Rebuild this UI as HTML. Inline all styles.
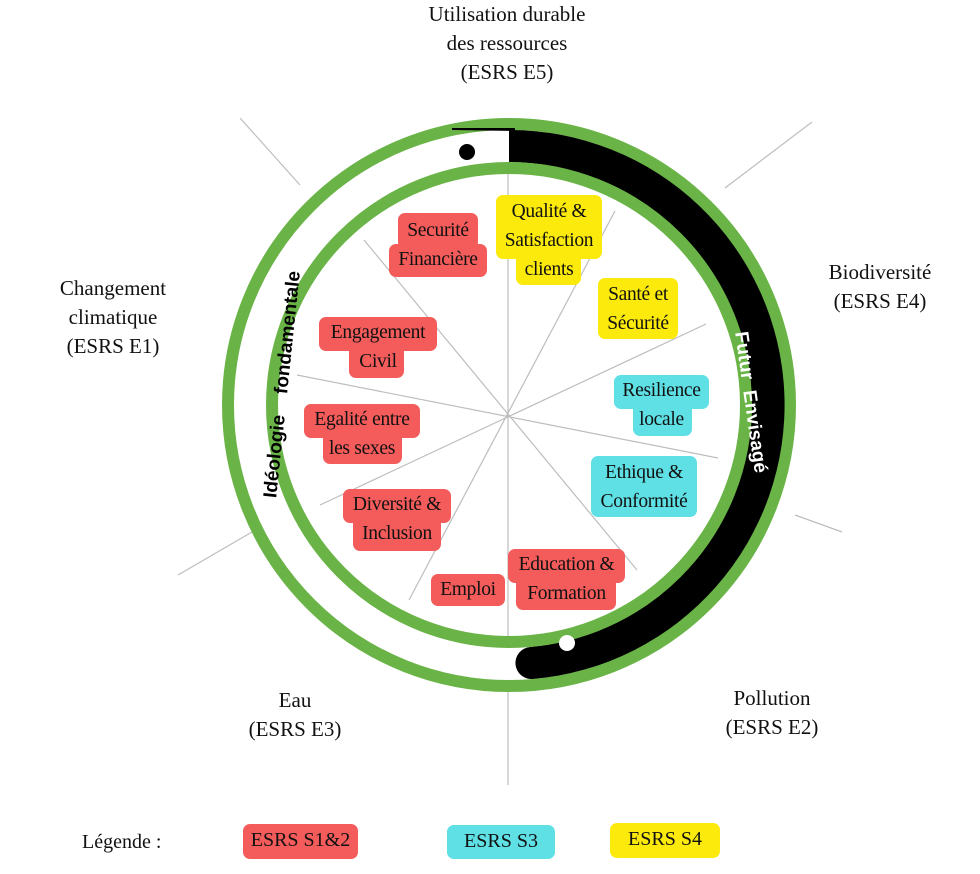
<!DOCTYPE html>
<html><head><meta charset="utf-8"><style>
html,body{margin:0;padding:0;background:#fff;}
#c{position:relative;width:980px;height:874px;overflow:hidden;font-family:"Liberation Serif",serif;color:#111;}
.b{position:absolute;border-radius:7px;}
.r{background:#f45b5b;}.y{background:#fbea0b;}.c{background:#5ee0e5;}
.t{position:absolute;font-size:19.5px;text-align:center;line-height:29px;white-space:nowrap;letter-spacing:-0.3px;}
.lab{position:absolute;font-size:21px;text-align:center;line-height:29px;white-space:nowrap;}
svg{position:absolute;left:0;top:0;}
</style></head><body><div id="c">
<svg width="980" height="874">
<g stroke="#bdbdbd" stroke-width="1.2">
<line x1="508" y1="165" x2="508" y2="645"/>
<line x1="508" y1="690" x2="508" y2="785"/>
<line x1="364" y1="240" x2="637" y2="570"/>
<line x1="615" y1="211" x2="409" y2="600"/>
<line x1="706" y1="324" x2="320" y2="505"/>
<line x1="297" y1="375" x2="718" y2="458"/>
<line x1="240" y1="118" x2="300" y2="185"/>
<line x1="725" y1="188" x2="812" y2="122"/>
<line x1="795" y1="515" x2="842" y2="532"/>
<line x1="178" y1="575" x2="252" y2="532"/>
</g>
<circle cx="509" cy="405" r="281" fill="none" stroke="#6ab447" stroke-width="12"/>
<path d="M 509 130 A 275 275 0 0 1 533 679 A 16 16 0 0 1 530 647 A 243 243 0 0 0 509 162 Z" fill="#000"/>
<path d="M 452 128 L 515 128 L 515 131 L 452 130 Z" fill="#000"/>
<circle cx="509" cy="405" r="237" fill="none" stroke="#6ab447" stroke-width="12"/>
<circle cx="467" cy="152" r="8" fill="#000"/>
<circle cx="567" cy="643" r="8" fill="#fff"/>
<text transform="translate(288,385) rotate(-84)" text-anchor="middle" font-family="Liberation Sans, sans-serif" font-weight="bold" font-size="19" fill="#000">Idéologie&#160;&#160;&#160;&#160;fondamentale</text>
<text transform="translate(745,403) rotate(82)" text-anchor="middle" font-family="Liberation Sans, sans-serif" font-weight="bold" font-size="19" fill="#fff">Futur&#160;&#160;Envisagé</text>
</svg>

<div class="b r" style="left:398px;top:213px;width:80px;height:36px"></div>
<div class="b r" style="left:389px;top:244px;width:98px;height:33px"></div>
<div class="t" style="left:389px;top:216px;width:98px">Securité<br>Financière</div>

<div class="b y" style="left:496px;top:195px;width:106px;height:64px"></div>
<div class="b y" style="left:516px;top:252px;width:65px;height:33px"></div>
<div class="t" style="left:496px;top:197px;width:106px;line-height:29px">Qualité &amp;<br>Satisfaction<br>clients</div>

<div class="b y" style="left:598px;top:278px;width:80px;height:61px"></div>
<div class="t" style="left:598px;top:280px;width:80px">Santé et<br>Sécurité</div>

<div class="b r" style="left:319px;top:317px;width:118px;height:34px"></div>
<div class="b r" style="left:349px;top:345px;width:55px;height:33px"></div>
<div class="t" style="left:319px;top:318px;width:118px">Engagement<br>Civil</div>

<div class="b c" style="left:614px;top:375px;width:95px;height:34px"></div>
<div class="b c" style="left:633px;top:403px;width:59px;height:33px"></div>
<div class="t" style="left:614px;top:376px;width:95px">Resilience<br>locale</div>

<div class="b r" style="left:304px;top:404px;width:116px;height:34px"></div>
<div class="b r" style="left:323px;top:432px;width:79px;height:32px"></div>
<div class="t" style="left:304px;top:405px;width:116px">Egalité entre<br>les sexes</div>

<div class="b c" style="left:591px;top:456px;width:106px;height:61px"></div>
<div class="t" style="left:591px;top:458px;width:106px">Ethique &amp;<br>Conformité</div>

<div class="b r" style="left:343px;top:489px;width:108px;height:34px"></div>
<div class="b r" style="left:353px;top:517px;width:88px;height:34px"></div>
<div class="t" style="left:343px;top:490px;width:108px">Diversité &amp;<br>Inclusion</div>

<div class="b r" style="left:431px;top:574px;width:74px;height:32px"></div>
<div class="t" style="left:431px;top:575px;width:74px">Emploi</div>

<div class="b r" style="left:508px;top:549px;width:117px;height:34px"></div>
<div class="b r" style="left:516px;top:577px;width:100px;height:33px"></div>
<div class="t" style="left:508px;top:550px;width:117px">Education &amp;<br>Formation</div>

<div class="lab" style="left:407px;top:0px;width:200px">Utilisation durable<br>des ressources<br>(ESRS E5)</div>
<div class="lab" style="left:800px;top:258px;width:160px">Biodiversité<br>(ESRS E4)</div>
<div class="lab" style="left:33px;top:274px;width:160px">Changement<br>climatique<br>(ESRS E1)</div>
<div class="lab" style="left:215px;top:686px;width:160px">Eau<br>(ESRS E3)</div>
<div class="lab" style="left:692px;top:684px;width:160px">Pollution<br>(ESRS E2)</div>

<div class="lab" style="left:82px;top:828px;width:90px;text-align:left;font-size:20px">Légende :</div>
<div class="b r" style="left:243px;top:824px;width:115px;height:35px"></div>
<div class="lab" style="left:243px;top:826px;width:115px;font-size:20px">ESRS S1&amp;2</div>
<div class="b c" style="left:447px;top:825px;width:108px;height:34px"></div>
<div class="lab" style="left:447px;top:827px;width:108px;font-size:20px">ESRS S3</div>
<div class="b y" style="left:610px;top:823px;width:110px;height:35px"></div>
<div class="lab" style="left:610px;top:825px;width:110px;font-size:20px">ESRS S4</div>
</div></body></html>
